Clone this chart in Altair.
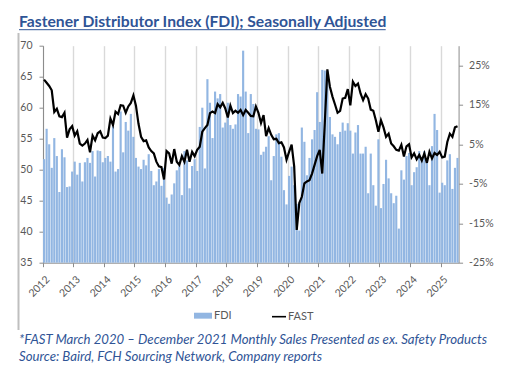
import altair as alt
import pandas as pd

# ---------------- data ----------------
fdi_2012 = [51.7, 56.6, 54.1, 50.3, 55.1, 52.2, 46.4, 53.3, 52.0, 47.2, 47.3, 49.7]
fdi_2013 = [51.3, 49.2, 51.1, 48.1, 51.2, 51.9, 51.1, 53.0, 48.9, 53.1, 53.0, 51.2]
fdi_2014 = [51.9, 52.2, 51.3, 57.0, 49.7, 50.1, 59.4, 52.8, 57.7, 56.3, 59.0, 55.3]
fdi_2015 = [51.9, 50.5, 50.1, 51.6, 50.7, 52.5, 49.8, 47.5, 48.1, 50.1, 47.4, 50.3]
fdi_2016 = [45.5, 44.5, 46.0, 47.8, 49.9, 50.6, 45.9, 53.0, 51.5, 47.0, 50.6, 51.7]
fdi_2017 = [49.8, 56.9, 60.0, 50.2, 64.6, 60.8, 55.1, 62.6, 61.5, 62.2, 56.8, 57.6]
fdi_2018 = [60.8, 57.2, 56.6, 57.3, 62.2, 61.8, 69.2, 62.6, 55.9, 62.2, 60.6, 56.6]
fdi_2019 = [56.5, 52.4, 52.9, 53.7, 55.4, 48.3, 52.2, 55.7, 55.9, 52.1, 46.7, 44.4]
fdi_2020 = [49.0, 50.5, 47.5, 44.5, 40.2, 56.8, 54.5, 49.1, 51.9, 54.9, 56.4, 62.5]
fdi_2021 = [57.7, 66.1, 66.0, 65.9, 58.5, 55.7, 55.3, 54.1, 56.1, 57.6, 56.3, 57.5]
fdi_2022 = [56.3, 52.6, 56.0, 57.2, 52.6, 52.6, 53.7, 46.2, 52.6, 47.5, 44.2, 54.9]
fdi_2023 = [43.8, 47.7, 51.6, 48.6, 46.2, 44.6, 45.8, 40.5, 49.9, 48.4, 52.2, 52.7]
fdi_2024 = [47.5, 49.6, 50.4, 53.0, 51.5, 53.0, 51.5, 47.5, 53.8, 59.0, 56.4, 46.3]
fdi_2025 = [47.9, 47.5, 51.5, 52.5, 46.9, 50.3, 51.9]

fast_2012 = [21.4, 20.6, 19.8, 18.7, 13.2, 14.0, 12.1, 11.9, 13.0, 6.7, 8.8, 9.6]
fast_2013 = [7.2, 8.3, 5.2, 4.7, 5.2, 6.1, 3.0, 7.2, 6.0, 7.8, 8.3, 6.7]
fast_2014 = [6.6, 7.2, 11.5, 9.9, 13.3, 12.7, 14.9, 14.8, 13.0, 14.6, 15.5, 17.4]
fast_2015 = [14.8, 10.2, 6.9, 5.8, 6.0, 4.2, 3.3, 2.7, 0.6, -0.6, -0.8, -3.9]
fast_2016 = [3.3, 2.7, 0.1, 3.8, 0.6, -0.2, 2.0, 0.6, 3.6, 0.6, 3.1, 2.0]
fast_2017 = [3.6, 4.4, 8.2, 9.1, 9.9, 12.9, 13.3, 12.9, 15.2, 14.4, 15.5, 14.1]
fast_2018 = [11.8, 14.8, 12.9, 13.5, 13.0, 13.7, 12.4, 13.7, 13.0, 12.2, 12.1, 14.6]
fast_2019 = [13.0, 10.4, 12.4, 7.1, 9.1, 7.4, 6.3, 6.4, 5.3, 5.5, 4.2, 1.1]
fast_2020 = [3.1, 4.9, -0.6, -16.7, -9.9, -8.3, -4.9, -4.4, -4.1, -2.4, -0.2, 2.0]
fast_2021 = [3.6, -2.4, 10.4, 24.0, 19.6, 17.1, 15.1, 13.0, 13.5, 16.6, 16.8, 19.0]
fast_2022 = [14.9, 20.9, 19.8, 20.4, 17.9, 16.2, 17.7, 16.6, 13.8, 13.5, 11.1, 8.2]
fast_2023 = [11.1, 9.3, 6.9, 7.7, 5.2, 4.5, 3.6, 3.4, 4.9, 1.9, 4.5, 5.0]
fast_2024 = [1.7, 2.7, 1.2, 2.3, 0.9, 2.7, 0.3, 3.1, 1.4, 2.8, 2.3, 3.1]
fast_2025 = [1.7, 1.9, 5.6, 7.7, 6.9, 9.3, 9.6]

years = list(range(2012, 2026))
left_ticks = [35, 40, 45, 50, 55, 60, 65, 70]
right_ticks = [-25, -15, -5, 5, 15, 25]

title_text = "Fastener Distributor Index (FDI); Seasonally Adjusted"
note_lines = [
    "*FAST March 2020 \u2013 December 2021 Monthly Sales Presented as ex. Safety Products",
    "Source: Baird, FCH Sourcing Network, Company reports",
]

fdi = (fdi_2012 + fdi_2013 + fdi_2014 + fdi_2015 + fdi_2016 + fdi_2017 + fdi_2018
       + fdi_2019 + fdi_2020 + fdi_2021 + fdi_2022 + fdi_2023 + fdi_2024 + fdi_2025)
fast = (fast_2012 + fast_2013 + fast_2014 + fast_2015 + fast_2016 + fast_2017 + fast_2018
        + fast_2019 + fast_2020 + fast_2021 + fast_2022 + fast_2023 + fast_2024 + fast_2025)
months = [f"{y}-{m:02d}" for y in years for m in range(1, 13)][:len(fdi)]
year_ticks = [f"{y}-01" for y in years]

df = pd.DataFrame({"month": months, "FDI": fdi, "FAST": fast})

# ---------------- styling ----------------
FONT = "Lato"
LABEL = "#595959"
AXIS = "#8C8C8C"
BLUE_TXT = "#2F5496"
BAR = "#92B6E2"
W, H = 415.6, 217

x_enc = alt.X(
    "month:O",
    scale=alt.Scale(paddingInner=0.16, paddingOuter=0),
    axis=alt.Axis(
        values=year_ticks, labelExpr="substring(datum.value, 0, 4)",
        bandPosition=0, labelAngle=-45, labelAlign="right", labelBaseline="middle",
        labelPadding=11, labelOffset=4, tickSize=4, tickColor=AXIS, domainColor=AXIS,
        grid=True, gridColor="#D9D9D9", gridWidth=1.4,
        labelFont=FONT, labelFontSize=10.5, labelColor=LABEL, title=None,
    ),
)

bars = alt.Chart(df).transform_calculate(s1="'FDI'").mark_bar().encode(
    x=x_enc,
    y=alt.Y("FDI:Q", scale=alt.Scale(domain=[35, 70], zero=False, nice=False),
            axis=alt.Axis(values=left_ticks, grid=False, tickSize=4, tickColor=AXIS,
                          domainColor=AXIS, labelPadding=7, labelFont=FONT,
                          labelFontSize=10.5, labelColor=LABEL, title=None)),
    y2=alt.datum(35),
    color=alt.Color("s1:N", scale=alt.Scale(range=[BAR]),
                    legend=alt.Legend(orient="none", legendX=151, legendY=261, title=None,
                                      symbolType="M-1,-0.33H1V0.33H-1Z", symbolSize=324,
                                      symbolStrokeWidth=0, labelOffset=2, padding=0,
                                      labelFont=FONT, labelFontSize=11, labelColor=LABEL)),
)

line = alt.Chart(df).transform_calculate(s2="'FAST'").mark_line(strokeWidth=2.2).encode(
    x=x_enc,
    y=alt.Y("FAST:Q", scale=alt.Scale(domain=[-25, 30], zero=False, nice=False),
            axis=alt.Axis(orient="right", values=right_ticks, labelExpr="datum.value + '%'",
                          grid=False, tickSize=4, tickColor=AXIS, domainColor=AXIS,
                          labelPadding=6, labelFont=FONT, labelFontSize=10.5,
                          labelColor=LABEL, title=None)),
    stroke=alt.Stroke("s2:N", scale=alt.Scale(range=["#000000"]),
                      legend=alt.Legend(orient="none", legendX=228, legendY=263, title=None,
                                        symbolType="stroke", symbolSize=196,
                                        symbolStrokeWidth=1.6, labelOffset=1, padding=0,
                                        labelFont=FONT, labelFontSize=11, labelColor=LABEL)),
)

title_df = pd.DataFrame({"t": [title_text]})
title = alt.Chart(title_df).mark_text(
    align="left", baseline="alphabetic", font=FONT, fontSize=15.7, fontWeight="bold",
    color=BLUE_TXT,
).encode(text="t:N", x=alt.value(-24), y=alt.value(-18.4))

underline = alt.Chart(title_df).mark_rule(color=BLUE_TXT, strokeWidth=1).encode(
    x=alt.value(-24), x2=alt.value(342.7), y=alt.value(-16.0))

side_bar = alt.Chart(title_df).mark_rule(color="#BFBFBF", strokeWidth=2).encode(
    x=alt.value(-24.5), y=alt.value(-12.7), y2=alt.value(284.3))

notes_df = pd.DataFrame({"t": note_lines, "i": [0, 1]})
note1 = alt.Chart(notes_df).transform_filter("datum.i == 0").mark_text(
    align="left", baseline="alphabetic", font=FONT, fontSize=13.2, fontStyle="italic",
    color=BLUE_TXT,
).encode(text="t:N", x=alt.value(-24), y=alt.value(298.3))
note2 = alt.Chart(notes_df).transform_filter("datum.i == 1").mark_text(
    align="left", baseline="alphabetic", font=FONT, fontSize=13.2, fontStyle="italic",
    color=BLUE_TXT,
).encode(text="t:N", x=alt.value(-24), y=alt.value(315.3))

chart = alt.layer(bars, line, title, underline, side_bar, note1, note2).resolve_scale(
    y="independent"
).properties(
    width=W, height=H,
    autosize=alt.AutoSizeParams(type="none"),
    padding={"left": 35, "top": 37.7, "right": 38, "bottom": 105},
    background="white",
).configure_view(stroke=None)

chart.save("out.html", embed_options={"renderer": "svg", "actions": False})
